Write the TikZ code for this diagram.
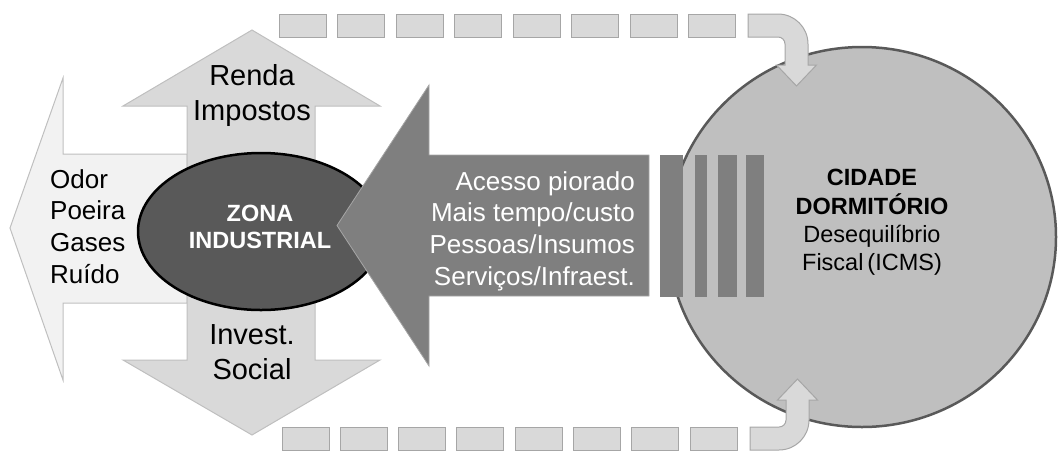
\documentclass[tikz,border=0pt]{standalone}
\usepackage{fontspec}
\setmainfont{Liberation Sans}
\usepackage{tikz}
\usetikzlibrary{positioning}

\definecolor{paleGray}{HTML}{F2F2F2}
\definecolor{lightGray}{HTML}{D9D9D9}
\definecolor{midGray}{HTML}{BFBFBF}
\definecolor{edgeGray}{HTML}{A6A6A6}
\definecolor{darkGray}{HTML}{7F7F7F}
\definecolor{deepGray}{HTML}{595959}

\tikzset{
	dashbox/.style={fill=lightGray, draw=edgeGray, line width=1pt},
	bigtxt/.style={inner sep=0pt, align=center, font=\fontsize{29}{35}\selectfont},
	midtxt/.style={inner sep=0pt, font=\fontsize{26}{31.7}\selectfont},
	citytxt/.style={inner sep=0pt, align=center, font=\fontsize{23.5}{28.3}\selectfont}
}

\begin{document}
\begin{tikzpicture}[x=1pt, y=-1pt]
				
				% Frame of the page
				\useasboundingbox (0,0) rectangle (1060,451);
				
				% Emissions arrow (left)
				\draw[fill=paleGray, draw=midGray, line width=1pt] (10,228) -- (63,78) -- (63,154) -- (187,154) -- 
				(187,303) -- (63,303) -- (63,380) -- cycle;
				
				% Up and down arrow
				\draw[fill=lightGray, draw=midGray, line width=1pt] (252,30) -- (380,106) -- (315,106) -- (315,360) -- 
				(380,360) -- (252,435) -- (123,360) -- (187,360) -- (187,106) -- (123,106) -- cycle;
				
				% Industrial zone
				\draw[fill=deepGray, line width=2.5pt] (261,231.5) ellipse (123 and 78.5);
				
				% Access arrow
				\draw[fill=darkGray, draw=edgeGray, line width=0.8pt] (337,225.5) -- (429,85) -- (429,155) -- (649,155) -- 
				(649,296) -- (429,296) -- (429,366) -- cycle;
				
				% Dormitory town
				\draw[fill=midGray, draw=deepGray, line width=2.5pt] (862,237) ellipse (194 and 190);
				
				% Stripes
				\foreach \xa/\xb in {660/683, 695/707, 718/737, 746/764}
					\fill[darkGray] (\xa,155) rectangle (\xb,297);
				
				% Dashed flow (top)
				\foreach \k in {0,...,7}
					\draw[dashbox] ({279+58.5*\k},14) rectangle ++(47,23);
				\draw[dashbox] (748,14) -- (778,14) arc[start angle=-90, end angle=0, radius=30] -- (808,65) -- 
				(816.5,65) -- (796.5,86) -- (776.5,65) -- (785,65) -- (785,44) arc[start angle=0, end angle=-90, radius=7] -- 
				(748,37) -- cycle;
				
				% Dashed flow (bottom)
				\foreach \k in {0,...,7}
					\draw[dashbox] ({282+58.3*\k},427) rectangle ++(47,23);
				\draw[dashbox] (750,427) -- (779,427) arc[start angle=90, end angle=0, radius=7] -- (786,400) -- 
				(777.5,400) -- (797.5,379) -- (817.5,400) -- (809,400) -- (809,420) arc[start angle=0, end angle=90, radius=30] -- 
				(750,450) -- cycle;
				
				% Labels
				\node[bigtxt] (renda) at (252,95) {Renda\\Impostos};
				\node[bigtxt] (invest) at (252,352.5) {Invest.\\Social};
				\node[midtxt, align=left, anchor=west] (odor) at (50,226.5) {Odor\\Poeira\\Gases\\Ruído};
				\node[inner sep=0pt, align=center, text=white, font=\fontsize{23.5}{27}\selectfont\bfseries] (zona) 
				at (260,226.5) {ZONA\\INDUSTRIAL};
				\node[midtxt, align=right, anchor=east, text=white] (acesso) at (635,231) 
				{Acesso piorado\\Mais tempo/custo\\Pessoas/Insumos\\Serviços/Infraest.};
				\node[citytxt] (cidade) at (872,222.5) 
				{\textbf{CIDADE}\\\textbf{DORMITÓRIO}\\Desequilíbrio\\Fiscal\,(ICMS)};
				
			\end{tikzpicture}
\end{document}
